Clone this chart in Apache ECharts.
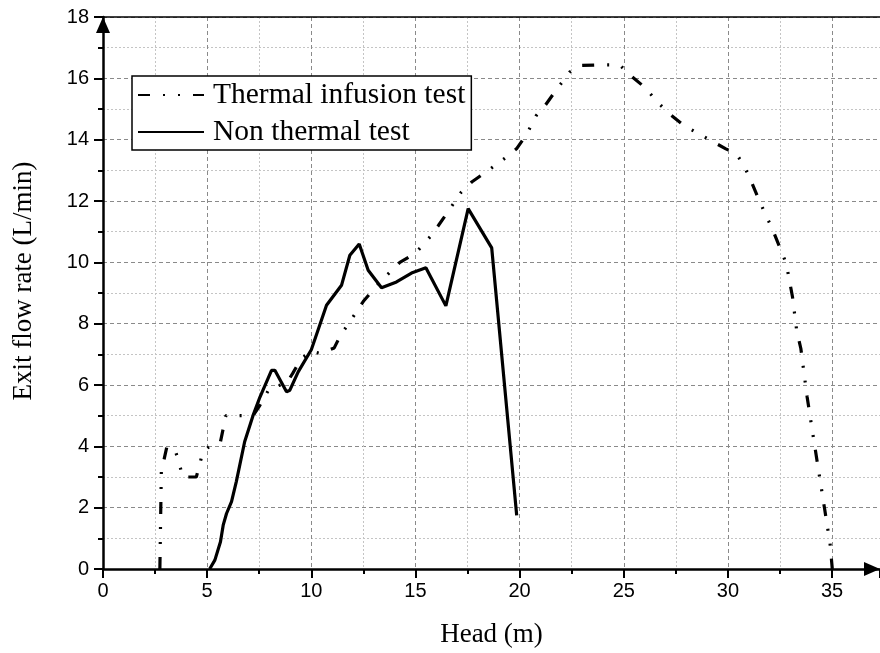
<!DOCTYPE html>
<html>
<head>
<meta charset="utf-8">
<script src="https://cdn.jsdelivr.net/npm/echarts@6/dist/echarts.min.js"></script>
<style>
html,body{margin:0;padding:0;background:#fff;}
#chart{width:880px;height:653px;}
</style>
</head>
<body>
<div id="chart"></div>
<script>
// ---- data ----
var seriesNames = ['Thermal infusion test', 'Non thermal test'];

var headThermal = [2.73, 2.8, 3.07, 3.5, 3.84, 4.48, 4.64, 4.8, 5.12, 5.64, 5.9, 6.5, 7.2, 7.5, 8.0, 8.8, 9.1, 9.5, 10.0, 10.4, 11.1, 11.4, 11.85, 12.5, 13.3, 14.25, 15.0, 15.7, 16.1, 16.6, 17.2, 17.7, 18.5, 19.3, 19.85, 20.35, 20.8, 21.25, 21.8, 22.4, 22.9, 23.9, 24.8, 25.3, 26.0, 26.7, 27.2, 27.9, 28.6, 29.9, 30.4, 30.75, 31.05, 31.4, 31.8, 32.1, 32.45, 32.8, 33.1, 33.3, 33.5, 33.8, 34.1, 34.4, 34.65, 34.9, 35.01];
var flowThermal = [0, 3.17, 4.0, 3.8, 3.0, 3.0, 3.41, 3.84, 4.0, 4.15, 5.0, 5.0, 5.0, 5.3, 5.9, 6.05, 6.37, 6.85, 7.1, 7.03, 7.21, 7.62, 8.06, 8.73, 9.36, 10.0, 10.3, 10.83, 11.2, 11.69, 12.29, 12.62, 13.0, 13.4, 13.7, 14.19, 14.79, 15.14, 15.66, 16.2, 16.42, 16.44, 16.44, 16.11, 15.71, 15.17, 14.84, 14.46, 14.19, 13.7, 13.54, 13.18, 12.75, 12.18, 11.56, 11.14, 10.55, 9.96, 8.87, 7.78, 7.19, 5.62, 4.3, 3.0, 1.92, 0.84, 0];

var headNonThermal = [5.12, 5.37, 5.64, 5.77, 5.93, 6.17, 6.4, 6.8, 7.2, 7.53, 8.09, 8.25, 8.81, 8.97, 9.37, 10.0, 10.73, 11.45, 11.85, 12.3, 12.73, 13.37, 14.09, 14.81, 15.5, 16.46, 17.53, 18.66, 19.86];
var flowNonThermal = [0, 0.29, 0.89, 1.43, 1.81, 2.2, 2.85, 4.15, 5.0, 5.6, 6.48, 6.48, 5.78, 5.83, 6.43, 7.15, 8.6, 9.25, 10.23, 10.6, 9.74, 9.17, 9.36, 9.65, 9.82, 8.58, 11.75, 10.47, 1.75];

var xAxisName = 'Head (m)';
var yAxisName = 'Exit flow rate (L/min)';

function zip(xs, ys) { return xs.map(function (x, i) { return [x, ys[i]]; }); }

var serif = "'Liberation Serif', 'Times New Roman', serif";
var sans = "'Liberation Sans', Arial, sans-serif";

var majorSplit = { show: true, lineStyle: { color: '#8a8a8a', width: 1, type: [4, 3] } };
var minorSplit = { show: true, lineStyle: { color: '#c4c4c4', width: 1, type: [2, 2] } };

var chart = echarts.init(document.getElementById('chart'), null, { renderer: 'canvas' });
chart.setOption({
  backgroundColor: '#ffffff',
  animation: false,
  grid: { left: 103, right: 0, top: 17, bottom: 82, containLabel: false },
  legend: {
    orient: 'vertical',
    left: 132, top: 76,
    padding: [4, 6, 3, 5],
    itemWidth: 66, itemHeight: 14, itemGap: 7,
    backgroundColor: '#ffffff',
    borderColor: '#000', borderWidth: 1.5, borderRadius: 0,
    itemStyle: { color: 'rgba(0,0,0,0)', borderWidth: 0, opacity: 0 },
    textStyle: { fontFamily: serif, fontSize: 29.5, color: '#000', lineHeight: 30, padding: [0, 0, 0, 4] },
    data: seriesNames
  },
  xAxis: [{
    type: 'value', min: 0, max: 37.3, interval: 5,
    name: xAxisName, nameLocation: 'middle', nameGap: 52,
    nameTextStyle: { fontFamily: serif, fontSize: 27, color: '#000' },
    axisLine: { show: true, onZero: false, lineStyle: { color: '#000', width: 2.5 },
      symbol: ['none', 'triangle'], symbolSize: [14, 16], symbolOffset: [0, -8] },
    axisTick: { show: true, inside: false, length: 9, lineStyle: { color: '#000', width: 2 } },
    minorTick: { show: true, splitNumber: 2, length: 5, lineStyle: { color: '#000', width: 2 } },
    axisLabel: { fontFamily: sans, fontSize: 20, color: '#000', margin: 12, showMaxLabel: false },
    splitLine: majorSplit,
    minorSplitLine: minorSplit
  }, {
    type: 'value', min: 0, max: 37.3, position: 'top',
    axisLine: { show: true, onZero: false, lineStyle: { color: '#000', width: 1.5 } },
    axisTick: { show: false }, axisLabel: { show: false }, splitLine: { show: false }
  }],
  yAxis: {
    type: 'value', min: 0, max: 18, interval: 2,
    name: yAxisName, nameLocation: 'middle', nameGap: 66, nameRotate: 90,
    nameTextStyle: { fontFamily: serif, fontSize: 27, color: '#000', padding: [0, 0, 0, 24] },
    axisLine: { show: true, onZero: false, lineStyle: { color: '#000', width: 2.5 },
      symbol: ['none', 'triangle'], symbolSize: [14, 16], symbolOffset: [0, -8] },
    axisTick: { show: true, inside: false, length: 9, lineStyle: { color: '#000', width: 2 } },
    minorTick: { show: true, splitNumber: 2, length: 5, lineStyle: { color: '#000', width: 2 } },
    axisLabel: { fontFamily: sans, fontSize: 20, color: '#000', margin: 14 },
    splitLine: majorSplit,
    minorSplitLine: minorSplit
  },
  series: [{
    name: seriesNames[0], type: 'line', symbol: 'none', showSymbol: false,
    data: zip(headThermal, flowThermal),
    lineStyle: { color: '#000', width: 3.2, type: [12, 13, 2, 13, 2, 13], cap: 'butt' },
    itemStyle: { color: '#000' }, z: 3
  }, {
    name: seriesNames[1], type: 'line', symbol: 'none', showSymbol: false,
    data: zip(headNonThermal, flowNonThermal),
    lineStyle: { color: '#000', width: 3.2, type: 'solid' },
    itemStyle: { color: '#000' }, z: 4
  }]
});
</script>
</body>
</html>
